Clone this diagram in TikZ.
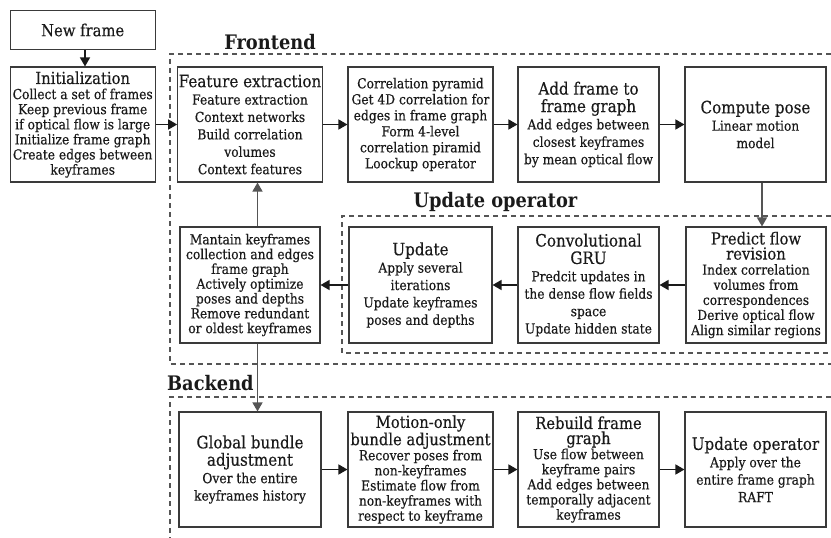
\documentclass[tikz,border=0pt]{standalone}
\usepackage{fontspec}
\setmainfont{DejaVu Serif}[FakeStretch=0.89, UprightFeatures={FakeBold=0.35}]
\usetikzlibrary{arrows.meta}
\definecolor{boxline}{HTML}{3A3A3A}
\definecolor{dashline}{HTML}{555555}
\definecolor{ink}{HTML}{1A1A1A}
% tight and loose line pitches
\newcommand\hdtxt{\fontsize{16.6}{18.6}\selectfont}
\newcommand\bodytxt{\fontsize{13.8}{15.1}\selectfont}
\newcommand\hdtxtL{\fontsize{17}{18.4}\selectfont}
\newcommand\bodytxtL{\fontsize{13.8}{17.4}\selectfont}
\tikzset{
  blk/.style={draw=boxline, line width=1.1pt, fill=white, text=ink, align=center,
    inner sep=1pt, font=\bodytxt},
  loose/.style={font=\bodytxtL},
  colA/.style={minimum width=145pt},
  colB/.style={minimum width=141pt},
  rowbox/.style={minimum height=115pt},
  flow/.style={-{Triangle[length=9pt,width=10pt]}, line width=1.5pt, draw=ink},
  vflow/.style={-{Triangle[length=9pt,width=10pt]}, line width=1.5pt, draw=dashline},
  group/.style={draw=dashline, line width=1.2pt, dash pattern=on 5pt off 4pt},
  grouplabel/.style={font=\fontsize{20}{21}\selectfont\bfseries, text=ink, inner sep=0pt}
}
\begin{document}
\begin{tikzpicture}[x=1pt,y=-1pt]
\useasboundingbox (0,0) rectangle (831,538);

% group frames (open to the right)
\draw[group] (831,54) -- (170,54) -- (170,364) -- (831,364);
\draw[group] (831,216) -- (342,216) -- (342,353) -- (831,353);
\draw[group] (831,397) -- (170,397) -- (170,540);

\node[grouplabel, anchor=base] (lfront) at (270,49) {Frontend};
\node[grouplabel, anchor=base] (lupd) at (495.5,207) {Update operator};
\node[grouplabel, anchor=base west] (lback) at (167,390) {Backend};

% entry
\node[blk, minimum width=145pt, minimum height=38.5pt, font=\hdtxt] (newf) at (82.7,30) {New frame};
\node[blk, colA, rowbox] (init) at (82.7,124.5)
  {{\hdtxt Initialization}\\Collect a set of frames\\Keep previous frame\\if optical flow is large\\Initialize frame graph\\Create edges between\\keyframes};

% frontend, first row
\node[blk, loose, minimum width=140pt, rowbox] (feat) at (250,124.5)
  {{\hdtxtL Feature extraction}\\Feature extraction\\Context networks\\Build correlation\\volumes\\Context features};
\node[blk, colA, rowbox, font=\fontsize{13.8}{16}\selectfont] (corr) at (420.5,124.5)
  {Correlation pyramid\\Get 4D correlation for\\edges in frame graph\\Form 4-level\\correlation piramid\\Loockup operator};
\node[blk, loose, colB, rowbox] (addf) at (588.5,124.5)
  {{\hdtxtL Add frame to}\\{\hdtxtL frame graph}\\Add edges between\\closest keyframes\\by mean optical flow};
\node[blk, loose, colB, rowbox] (pose) at (755.5,124.5)
  {{\hdtxtL Compute pose}\\Linear motion\\model};

% frontend, second row
\node[blk, minimum width=140pt, minimum height=116pt, font=\fontsize{13.8}{14.8}\selectfont] (keep) at (250,285)
  {Mantain keyframes\\collection and edges\\frame graph\\Actively optimize\\poses and depths\\Remove redundant\\or oldest keyframes};
\node[blk, loose, minimum width=143pt, minimum height=116pt] (upd) at (420.5,285)
  {{\hdtxtL Update}\\Apply several\\iterations\\Update keyframes\\poses and depths};
\node[blk, loose, colB, minimum height=116pt] (gru) at (588.5,285)
  {{\hdtxtL Convolutional}\\{\hdtxtL GRU}\\Predcit updates in\\the dense flow fields\\space\\Update hidden state};
\node[blk, minimum width=140pt, minimum height=116pt] (pred) at (756,285)
  {{\hdtxt Predict flow}\\{\hdtxt revision}\\Index correlation\\volumes from\\correspondences\\Derive optical flow\\Align similar regions};

% backend
\node[blk, loose, minimum width=142pt, rowbox] (gba) at (250,469.5)
  {{\hdtxtL Global bundle}\\{\hdtxtL adjustment}\\Over the entire\\keyframes history};
\node[blk, colA, rowbox] (moba) at (420.5,469.5)
  {{\hdtxt Motion-only}\\{\hdtxt bundle adjustment}\\Recover poses from\\non-keyframes\\Estimate flow from\\non-keyframes with\\respect to keyframe};
\node[blk, colB, rowbox] (rebuild) at (588.5,469.5)
  {{\hdtxt Rebuild frame}\\{\hdtxt graph}\\Use flow between\\keyframe pairs\\Add edges between\\temporally adjacent\\keyframes};
\node[blk, loose, colB, rowbox] (updop) at (755.5,469.5)
  {{\hdtxtL Update operator}\\Apply over the\\entire frame graph\\RAFT};

% connectors
\draw[flow] ([xshift=2.3pt]newf.south) -- ([xshift=2.3pt]init.north);
\draw[flow] (init) -- (feat);
\draw[flow] (feat) -- (corr);
\draw[flow] (corr) -- (addf);
\draw[flow] (addf) -- (pose);
\draw[vflow] ([xshift=6.5pt]pose.south) -- ([xshift=6pt]pred.north);
\draw[flow] (pred) -- (gru);
\draw[flow] (gru) -- (upd);
\draw[flow] (upd) -- (keep);
\draw[vflow] ([xshift=7.5pt]keep.north) -- ([xshift=7.5pt]feat.south);
\draw[vflow] ([xshift=7.5pt]keep.south) -- ([xshift=7.5pt]gba.north);
\draw[flow] (gba) -- (moba);
\draw[flow] (moba) -- (rebuild);
\draw[flow] (rebuild) -- (updop);
\end{tikzpicture}
\end{document}
